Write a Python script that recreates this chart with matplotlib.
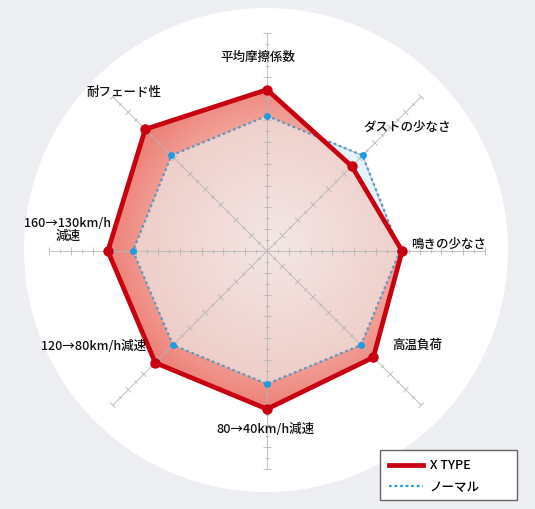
import numpy as np
import matplotlib
matplotlib.use("Agg")
import matplotlib.pyplot as plt
from matplotlib.path import Path
from matplotlib.patches import Circle, Rectangle
from matplotlib.lines import Line2D
from matplotlib.collections import LineCollection
from matplotlib.colors import to_rgb

plt.rcParams['font.family'] = ['Noto Sans CJK JP', 'DejaVu Sans']

# data (scale 0..10, clockwise from top)
labels = ['平均摩擦係数', 'ダストの少なさ', '鳴きの少なさ', '高温負荷',
          '80→40km/h減速', '120→80km/h減速', '160→130km/h\n減速', '耐フェード性']
xtype = [7.4, 5.5, 6.2, 6.9, 7.25, 7.25, 7.3, 7.9]
normal = [6.2, 6.2, 6.1, 6.1, 6.1, 6.1, 6.15, 6.2]
series_names = ['X TYPE', 'ノーマル']
r_max = 10

# layout in pixels
W, H = 535, 509
cx_px, cy_px, scale = 267, 251, 21.8
label_pos = [(-0.41, 8.9), (6.42, 5.69), (8.35, 0.32), (6.88, -4.31),
             (-0.09, -8.17), (-7.94, -4.36), (-9.13, 0.96), (-6.56, 7.25)]

RED = '#c8000f'
BLUE = '#1f9be0'

angles = np.deg2rad(90 - 45 * np.arange(len(labels)))

def to_xy(vals):
    v = np.asarray(vals, dtype=float)
    return v * np.cos(angles), v * np.sin(angles)

def blend(ca, cb, t):
    a = np.array(to_rgb(ca))
    b = np.array(to_rgb(cb))
    return a * (1 - t[..., None]) + b * t[..., None]

fig = plt.figure(figsize=(W / 100, H / 100), dpi=100, facecolor='#eceef2')
ax = fig.add_axes([0, 0, 1, 1])
ax.set_xlim(-cx_px / scale, (W - cx_px) / scale)
ax.set_ylim(-(H - cy_px) / scale, cy_px / scale)
ax.axis('off')

# white backdrop circle
ax.add_patch(Circle((-1 / scale, 1 / scale), 242 / scale, fc='white', ec='none', zorder=0))

# fills computed on a grid
xx, yy = to_xy(xtype)
nx, ny = to_xy(normal)
path_x = Path(np.column_stack([np.r_[xx, xx[0]], np.r_[yy, yy[0]]]))
path_n = Path(np.column_stack([np.r_[nx, nx[0]], np.r_[ny, ny[0]]]))
n = 700
g = np.linspace(-10.5, 10.5, n)
GX, GY = np.meshgrid(g, g)
pts = np.column_stack([GX.ravel(), GY.ravel()])
in_x = path_x.contains_points(pts).reshape(n, n)
in_n = path_n.contains_points(pts).reshape(n, n)

d = np.hypot(GX - 0.4, GY - 0.4)
outer = blend('#f3aaa2', '#ec7b71', np.clip((d - 5.0) / 3.0, 0, 1))
inner = blend('#f4e7e5', '#eecdc8', np.clip(d / 6.5, 0, 1))

img = np.zeros((n, n, 4))
img[in_x, :3] = outer[in_x]
img[in_x, 3] = 1
both = in_x & in_n
img[both, :3] = inner[both]
only_n = in_n & ~in_x
img[only_n, :3] = to_rgb('#e6f3fa')
img[only_n, 3] = 1
ax.imshow(img, extent=(-10.5, 10.5, -10.5, 10.5), origin='lower',
          interpolation='bilinear', zorder=1)

# spokes with tick marks
segs = []
for a in angles:
    ca, sa = np.cos(a), np.sin(a)
    segs.append([(0, 0), (r_max * ca, r_max * sa)])
    for r in np.arange(0.5, r_max + 0.01, 0.5):
        h = 0.17 if abs(r - round(r)) < 1e-6 else 0.09
        px, py = r * ca, r * sa
        segs.append([(px + h * sa, py - h * ca), (px - h * sa, py + h * ca)])
ax.add_collection(LineCollection(segs, colors='#b4b4b4', linewidths=0.8,
                                 alpha=0.75, zorder=2))

# series lines
ax.plot(np.r_[nx, nx[0]], np.r_[ny, ny[0]], color='#5a98c0', lw=1.6,
        ls=(0, (1.2, 1.3)), zorder=3)
ax.plot(nx, ny, 'o', color=BLUE, ms=5, mec='none', zorder=4)
ax.plot(np.r_[xx, xx[0]], np.r_[yy, yy[0]], color=RED, lw=3.4,
        solid_joinstyle='miter', zorder=5)
ax.plot(xx, yy, 'o', color=RED, ms=7.5, mec='none', zorder=6)

# axis labels
for lab, (lx, ly) in zip(labels, label_pos):
    ax.text(lx, ly, lab, ha='center', va='center', fontsize=9,
            fontweight='medium', color='#111111', linespacing=1.0, zorder=7)

# legend
fig.add_artist(Rectangle((380 / W, 1 - 500 / H), 137 / W, 50 / H,
                         transform=fig.transFigure, fc='white', ec='#666666', lw=1))
handles = [Line2D([], [], color=RED, lw=3.4),
           Line2D([], [], color=BLUE, lw=1.6, ls=(0, (1.2, 1.3)))]
fig.legend(handles, series_names, loc='center left',
           bbox_to_anchor=(389 / W, 1 - 476.5 / H), frameon=False,
           borderpad=0, borderaxespad=0, handlelength=2.7, handletextpad=0.56,
           labelspacing=0.68, prop={'size': 9, 'weight': 'medium'})

fig.savefig('out.png', dpi=100, facecolor=fig.get_facecolor())
